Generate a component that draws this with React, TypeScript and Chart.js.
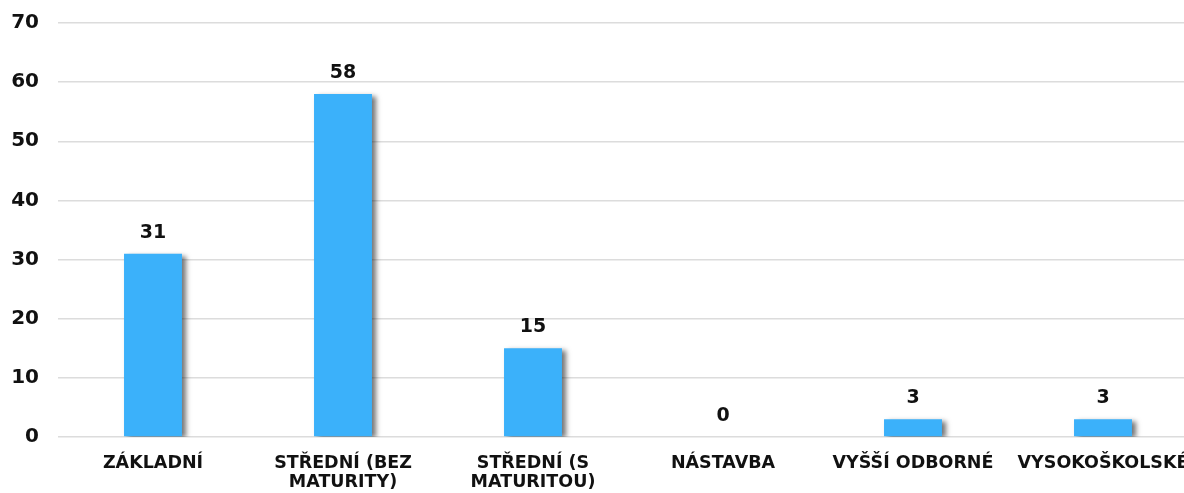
import React, { useEffect, useRef } from "react";
import { Chart, registerables } from "chart.js";

Chart.register(...registerables);

const categories: string[][] = [
  ["ZÁKLADNÍ"],
  ["STŘEDNÍ (BEZ", "MATURITY)"],
  ["STŘEDNÍ (S", "MATURITOU)"],
  ["NÁSTAVBA"],
  ["VYŠŠÍ ODBORNÉ"],
  ["VYSOKOŠKOLSKÉ"],
];
const values: number[] = [31, 58, 15, 0, 3, 3];
const yTicks: number[] = [0, 10, 20, 30, 40, 50, 60, 70];

const FONT = "'DejaVu Sans', Verdana, sans-serif";

const shadowPlugin = {
  id: "barShadow",
  beforeDatasetsDraw(chart: any) {
    const ctx = chart.ctx;
    ctx.save();
    ctx.shadowColor = "rgba(0,0,0,0.55)";
    ctx.shadowBlur = 5;
    ctx.shadowOffsetX = 4;
    ctx.shadowOffsetY = 2;
  },
  afterDatasetsDraw(chart: any) {
    chart.ctx.restore();
    const ctx = chart.ctx;
    const meta = chart.getDatasetMeta(0);
    ctx.save();
    ctx.font = `bold 19px ${FONT}`;
    ctx.fillStyle = "#111";
    ctx.textAlign = "center";
    ctx.textBaseline = "alphabetic";
    meta.data.forEach((bar: any, i: number) => {
      ctx.fillText(String(values[i]), bar.x, bar.y - 16);
    });
    ctx.restore();
  },
};

export default function App() {
  const ref = useRef<HTMLCanvasElement | null>(null);
  useEffect(() => {
    document.documentElement.style.overflow = "hidden";
    document.body.style.overflow = "hidden";
    document.body.style.margin = "0";
    const chart = new Chart(ref.current!, {
      type: "bar",
      data: {
        labels: categories,
        datasets: [
          {
            data: values,
            backgroundColor: "#3bb1fa",
            borderWidth: 0,
            categoryPercentage: 1,
            barPercentage: 0.305,
          },
        ],
      },
      options: {
        animation: false,
        responsive: false,
        maintainAspectRatio: false,
        layout: { padding: { top: 23, right: 2, left: 0, bottom: 0 } },
        plugins: { legend: { display: false }, tooltip: { enabled: false } },
        scales: {
          x: {
            grid: { display: false, drawTicks: false },
            border: { display: false },
            ticks: {
              color: "#111",
              font: { family: FONT, weight: "bold", size: 17.5, lineHeight: 1.1 },
              maxRotation: 0,
              autoSkip: false,
              padding: 17,
            },
            afterFit(scale: any) {
              scale.height = 56;
              scale.paddingLeft = 0;
              scale.paddingRight = 0;
            },
          },
          y: {
            min: 0,
            max: 70,
            afterBuildTicks(scale: any) {
              scale.ticks = yTicks.map((v) => ({ value: v }));
            },
            grid: { color: "#dcdcdc", lineWidth: 1.5, drawTicks: false },
            border: { display: false },
            ticks: {
              color: "#111",
              font: { family: FONT, weight: "bold", size: 20 },
              padding: 19,
            },
            afterFit(scale: any) {
              scale.width = 58;
              scale.paddingTop = 0;
              scale.paddingBottom = 0;
            },
          },
        },
      },
      plugins: [shadowPlugin],
    });
    return () => chart.destroy();
  }, []);
  return (
    <div style={{ width: 1200, height: 493, overflow: "hidden" }}>
      <canvas ref={ref} width={1200} height={493} style={{ display: "block" }} />
    </div>
  );
}
